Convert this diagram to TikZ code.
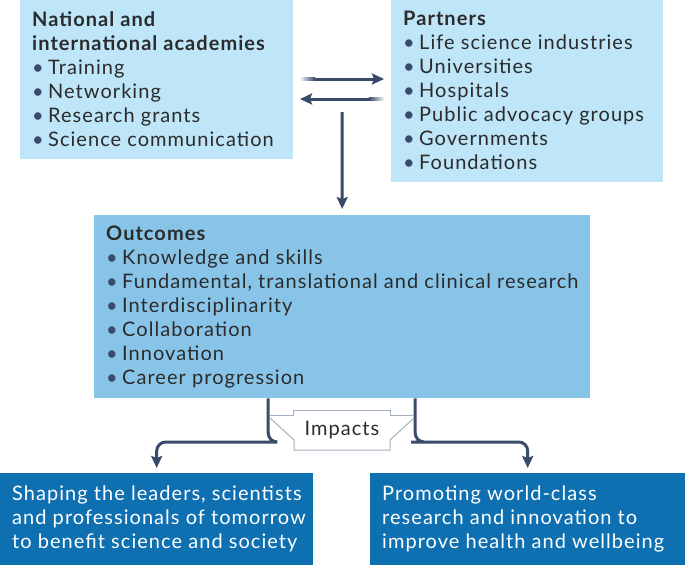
\documentclass[tikz,border=0pt]{standalone}
\usepackage{fontspec}
\setmainfont{Lato}[LetterSpace=5.2]
\usetikzlibrary{arrows.meta,positioning}

\definecolor{lightbox}{HTML}{BEE5F8}
\definecolor{midbox}{HTML}{88C4E8}
\definecolor{darkbox}{HTML}{0E6FB1}
\definecolor{arrowcol}{HTML}{3A4A6A}
\definecolor{tagcol}{HTML}{A3B1C2}
\definecolor{txtcol}{HTML}{2B2B2B}

\newcommand{\bul}{\makebox[16pt][l]{\textcolor{arrowcol}{\textbullet}}}

\begin{document}
\begin{tikzpicture}[x=1pt,y=-1pt,
    box/.style={draw=none,inner sep=0,anchor=north west},
    txt/.style={inner sep=0,anchor=north west,align=left,text=txtcol,
        font=\fontsize{20}{24}\selectfont},
    conn/.style={draw=arrowcol,line width=3pt,-{Stealth[length=12pt,width=11pt,inset=2pt]}},
    bar/.style={conn,rounded corners=9pt},
    tag/.style={draw=tagcol,line width=1pt}
]
\useasboundingbox (0,0) rectangle (685,565);

% Top boxes
\node[box,fill=lightbox,minimum width=273pt,minimum height=159pt] (acad) at (20,0) {};
\node[txt] (acadtxt) at ([xshift=12pt,yshift=-11pt]acad.north west)
  {\textbf{National and}\\\textbf{international academies}\\
   \bul Training\\\bul Networking\\\bul Research grants\\\bul Science communication};

\node[box,fill=lightbox,minimum width=272pt,minimum height=182pt] (part) at (391,0) {};
\node[txt] (parttxt) at ([xshift=12pt,yshift=-11pt]part.north west)
  {\textbf{Partners}\\\bul Life science industries\\\bul Universities\\\bul Hospitals\\
   \bul Public advocacy groups\\\bul Governments\\\bul Foundations};

% Outcomes
\node[box,fill=midbox,minimum width=496pt,minimum height=183pt] (out) at (94,215) {};
\node[txt] (outtxt) at ([xshift=12pt,yshift=-11pt]out.north west)
  {\textbf{Outcomes}\\\bul Knowledge and skills\\
   \bul Fundamental, translational and clinical research\\\bul Interdisciplinarity\\
   \bul Collaboration\\\bul Innovation\\\bul Career progression};

% Impact boxes
\node[box,fill=darkbox,minimum width=313pt,minimum height=92pt] (lead) at (0,473) {};
\node[txt,text=white] (leadtxt) at ([xshift=12pt,yshift=-13pt]lead.north west)
  {Shaping the leaders, scientists\\and professionals of tomorrow\\to benefit science and society};

\node[box,fill=darkbox,minimum width=315pt,minimum height=92pt] (res) at (370,473) {};
\node[txt,text=white] (restxt) at ([xshift=12pt,yshift=-13pt]res.north west)
  {Promoting world-class\\research and innovation to\\improve health and wellbeing};

% Exchange arrows
\coordinate (a1) at (315,79);
\coordinate (a2) at (384,79);
\coordinate (b1) at (369,99);
\coordinate (b2) at (300,99);
\shade[left color=arrowcol!5,right color=arrowcol] (300,77.5) rectangle (315,80.5);
\draw[conn] (a1) -- (a2);
\shade[left color=arrowcol,right color=arrowcol!5] (369,97.5) rectangle (384,100.5);
\draw[conn] (b1) -- (b2);

\coordinate (dtop) at (342,112);
\draw[conn,shorten >=6pt] (dtop) -- (out.north);

% Impacts bracket
\draw[bar,shorten >=5pt] ([xshift=-74pt]out.south) |- (270,442) -| (lead.north);
\draw[bar,shorten >=5pt] ([xshift=73pt]out.south) |- (420,442) -| (res.north);

\node[font=\fontsize{20}{24}\selectfont,text=txtcol] (imp) at (342,430) {Impacts};
\draw[tag] (270,415) -- (293,415) -- (293,410) -- (390,410) -- (390,415) -- (414,415);
\draw[tag] (270,418) -- (294,440) -- (294,450) -- (390,450) -- (390,440) -- (414,418);

\end{tikzpicture}
\end{document}
